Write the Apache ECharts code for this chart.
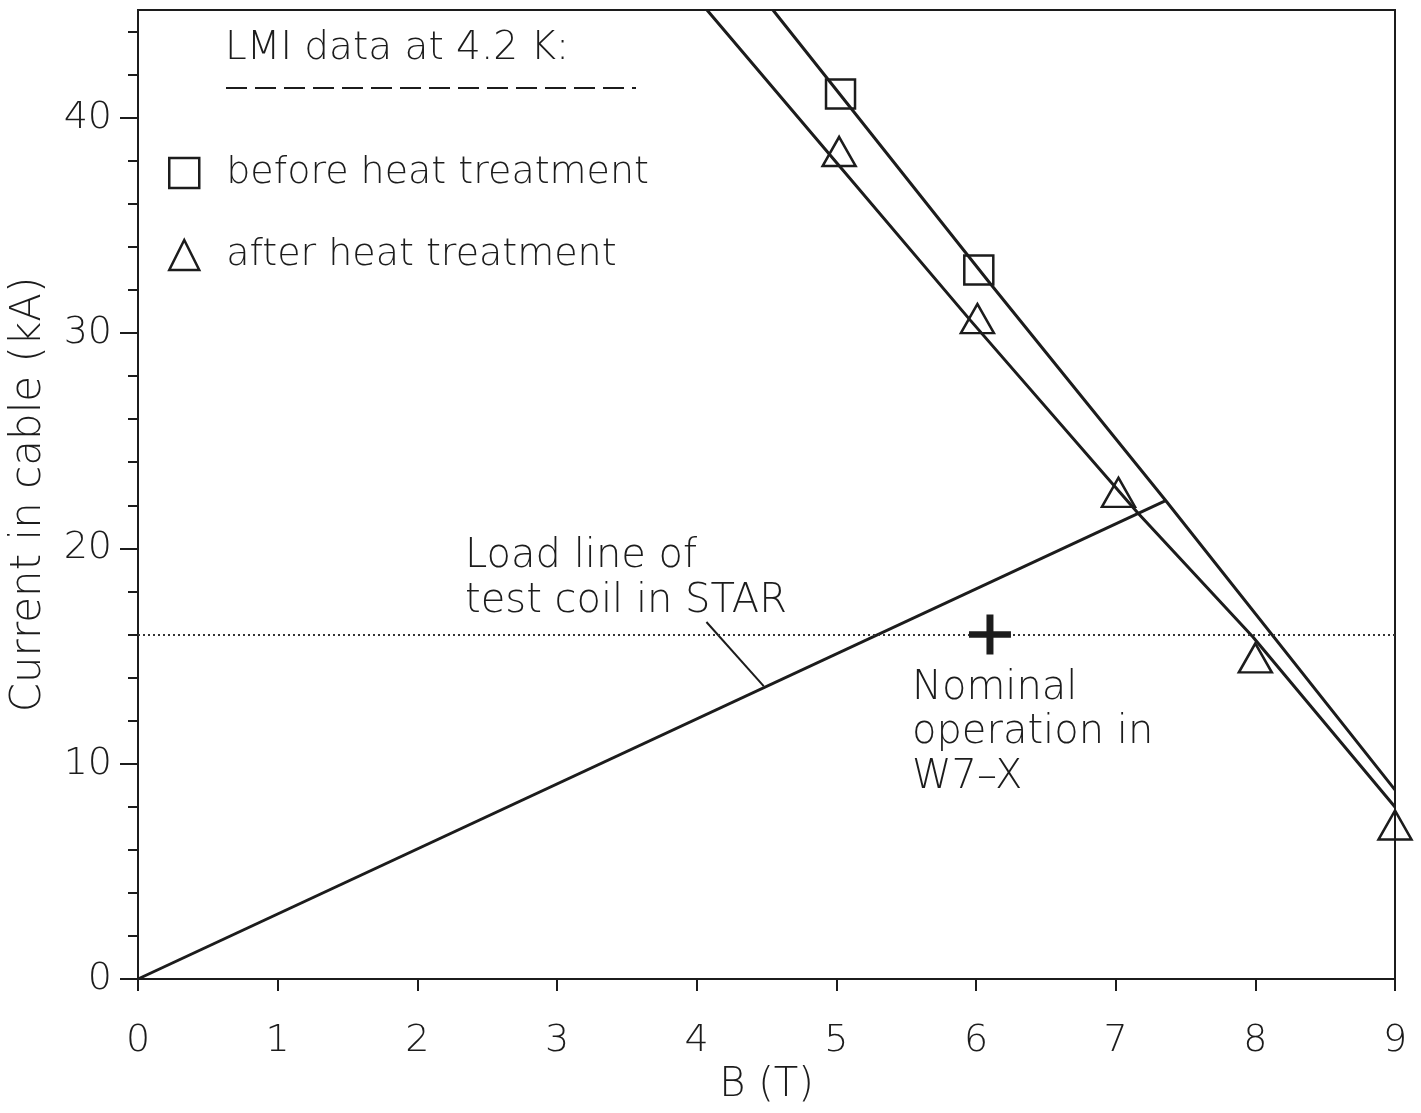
<!DOCTYPE html>
<html>
<head>
<meta charset="utf-8">
<script src="https://cdn.jsdelivr.net/npm/echarts@6/dist/echarts.min.js"></script>
<style>
  html, body { margin: 0; padding: 0; background: #fff; }
  #chart { width: 1421px; height: 1113px; }
</style>
</head>
<body>
<div id="chart"></div>
<script>
// Critical current of the W7-X cable versus field, LMI measurements at 4.2 K
const beforeB = [5.03, 6.02];
const beforeI = [41.1, 32.93];
const afterB = [5.02, 6.01, 7.02, 8.0, 9.0];
const afterI = [38.43, 30.67, 22.6, 14.91, 7.15];

// fitted critical-current lines
const beforeFitB = [4.546, 6.1, 7.358, 9.0];
const beforeFitI = [45.0, 32.31, 22.22, 8.78];
const afterFitB = [4.074, 4.955, 5.957, 7.159, 7.983, 9.0];
const afterFitI = [45.0, 38.27, 30.61, 21.64, 15.88, 7.99];

// load line of the STAR test coil, ending on the "before" line
const loadB = [0, 7.358];
const loadI = [0, 22.22];

// pointer from the load-line caption to the line
const leaderB = [4.07, 4.48];
const leaderI = [16.58, 13.6];

// W7-X nominal operating point and current
const nominalB = [6.1];
const nominalI = [16.0];
const nominalCurrent = 16.0;

// axis ticks
const xTicks = [0, 1, 2, 3, 4, 5, 6, 7, 8, 9];
const yLabels = [0, 10, 20, 30, 40];
const yMinorTicks = [2, 4, 6, 8, 12, 14, 16, 18, 22, 24, 26, 28, 32, 34, 36, 38, 42, 44];

const pairs = (xs, ys) => xs.map((x, i) => [x, ys[i]]);

const FONT = '"DejaVu Sans", sans-serif';
const WEIGHT = 200;
const INK = '#1c1c1c';

const chart = echarts.init(document.getElementById('chart'), null, { renderer: 'canvas' });

const plusPath = 'path://M-1,-6 L1,-6 L1,-1 L6,-1 L6,1 L1,1 L1,6 L-1,6 L-1,1 L-6,1 L-6,-1 L-1,-1 Z';

const option = {
  backgroundColor: '#fff',
  animation: false,
  title: {
    text: 'LMI data at 4.2 K:',
    left: 225,
    top: 29,
    padding: 0,
    textStyle: { fontFamily: FONT, fontWeight: WEIGHT, fontSize: 39, color: INK }
  },
  legend: {
    data: ['before heat treatment', 'after heat treatment'],
    orient: 'vertical',
    left: 168,
    top: 154,
    padding: 0,
    itemWidth: 30,
    itemHeight: 30,
    itemGap: 44,
    selectedMode: false,
    itemStyle: { color: 'rgba(0,0,0,0)', borderColor: INK, borderWidth: 2.5, opacity: 1 },
    textStyle: { fontFamily: FONT, fontWeight: WEIGHT, fontSize: 38, color: INK, padding: [0, 0, 0, 22] }
  },
  grid: {
    left: 138, right: 26, top: 10, bottom: 134,
    show: true, borderColor: INK, borderWidth: 2, backgroundColor: 'rgba(0,0,0,0)'
  },
  xAxis: {
    type: 'value',
    min: xTicks[0], max: xTicks[xTicks.length - 1], interval: 1,
    axisLine: { show: true, lineStyle: { color: INK, width: 2 } },
    axisTick: { show: true, length: 12, lineStyle: { color: INK, width: 2 } },
    axisLabel: { margin: 43, fontFamily: FONT, fontWeight: WEIGHT, fontSize: 38, color: INK },
    splitLine: { show: false },
    name: 'B (T)',
    nameLocation: 'middle',
    nameGap: 87,
    nameTextStyle: { fontFamily: FONT, fontWeight: WEIGHT, fontSize: 40, color: INK }
  },
  yAxis: [
    {
      type: 'value',
      position: 'left',
      min: 0, max: 45,
      axisLine: { show: true, lineStyle: { color: INK, width: 2 } },
      axisTick: { show: true, length: 10, customValues: yMinorTicks, lineStyle: { color: INK, width: 2 } },
      axisLabel: { margin: 26, customValues: yLabels, fontFamily: FONT, fontWeight: WEIGHT, fontSize: 38, color: INK },
      splitLine: { show: false },
      name: 'Current in cable (kA)',
      nameLocation: 'middle',
      nameGap: 88,
      nameTextStyle: { fontFamily: FONT, fontWeight: WEIGHT, fontSize: 42, color: INK }
    },
    {
      type: 'value',
      position: 'left',
      offset: 0,
      min: 0, max: 45,
      axisLine: { show: false },
      axisTick: { show: true, length: 18, customValues: yLabels, lineStyle: { color: INK, width: 2 } },
      axisLabel: { show: false },
      splitLine: { show: false }
    }
  ],
  graphic: [
    {
      type: 'line',
      shape: { x1: 226, y1: 88, x2: 636, y2: 88 },
      style: { stroke: INK, lineWidth: 2, lineDash: [21, 8] },
      silent: true
    },
    {
      type: 'text',
      x: 465, y: 534,
      style: {
        text: 'Load line of\ntest coil in STAR',
        font: `${WEIGHT} 40px ${FONT}`,
        lineHeight: 45,
        fill: INK,
        verticalAlign: 'top'
      },
      silent: true
    },
    {
      type: 'text',
      x: 912, y: 666,
      style: {
        text: 'Nominal\noperation in\nW7\u2013X',
        font: `${WEIGHT} 40px ${FONT}`,
        lineHeight: 44.5,
        fill: INK,
        verticalAlign: 'top'
      },
      silent: true
    }
  ],
  series: [
    {
      name: 'before fit',
      type: 'line',
      data: pairs(beforeFitB, beforeFitI),
      symbol: 'none',
      lineStyle: { color: INK, width: 3 },
      silent: true
    },
    {
      name: 'after fit',
      type: 'line',
      data: pairs(afterFitB, afterFitI),
      symbol: 'none',
      lineStyle: { color: INK, width: 3 },
      silent: true
    },
    {
      name: 'load line',
      type: 'line',
      data: pairs(loadB, loadI),
      symbol: 'none',
      lineStyle: { color: INK, width: 3 },
      silent: true,
      markLine: {
        silent: true,
        symbol: ['none', 'none'],
        label: { show: false },
        lineStyle: { color: '#333', width: 2, type: [2, 3] },
        data: [{ yAxis: nominalCurrent }]
      }
    },
    {
      name: 'leader',
      type: 'line',
      data: pairs(leaderB, leaderI),
      symbol: 'none',
      lineStyle: { color: INK, width: 2 },
      silent: true
    },
    {
      name: 'before heat treatment',
      type: 'scatter',
      data: pairs(beforeB, beforeI),
      symbol: 'rect',
      symbolSize: 29,
      itemStyle: { color: 'rgba(0,0,0,0)', borderColor: INK, borderWidth: 2.5, opacity: 1 },
      z: 5
    },
    {
      name: 'after heat treatment',
      type: 'scatter',
      data: pairs(afterB, afterI),
      symbol: 'triangle',
      symbolSize: [33, 29],
      itemStyle: { color: 'rgba(0,0,0,0)', borderColor: INK, borderWidth: 2.5, opacity: 1 },
      z: 5
    },
    {
      name: 'nominal operation',
      type: 'scatter',
      data: pairs(nominalB, nominalI),
      symbol: plusPath,
      symbolSize: [42, 40],
      itemStyle: { color: INK, opacity: 1 },
      z: 6
    }
  ]
};

chart.setOption(option);
</script>
</body>
</html>
